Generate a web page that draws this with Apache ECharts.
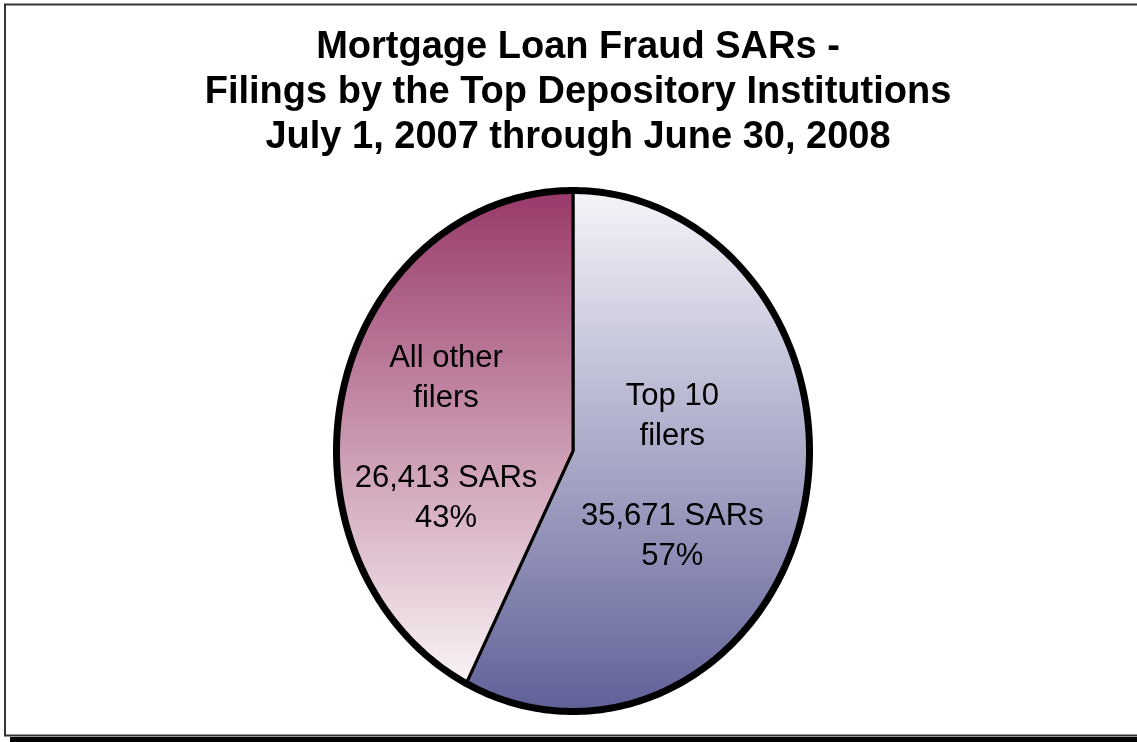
<!DOCTYPE html>
<html>
<head>
<meta charset="utf-8">
<script src="https://cdn.jsdelivr.net/npm/echarts@6/dist/echarts.min.js"></script>
<style>
html,body{margin:0;padding:0;background:#fff;}
#chart{width:1137px;height:742px;}
</style>
</head>
<body>
<div id="chart"></div>
<script>
// ---- data ----
const titleLines = ['Mortgage Loan Fraud SARs -', 'Filings by the Top Depository Institutions', 'July 1, 2007 through June 30, 2008'];
const categories = ['Top 10\nfilers', 'All other\nfilers'];
const sarCounts = [35671, 26413];
const percents = [57, 43];

// ---- layout / style ----
const labelPos = [[0.42, -0.098], [-0.537, 0.048]];
const gradients = [
  [{offset: 0, color: '#f5f5fa'}, {offset: 1, color: '#606098'}],
  [{offset: 0, color: '#983868'}, {offset: 1, color: '#faf4f6'}]
];

const total = sarCounts.reduce((a, b) => a + b, 0);
const starts = [];
let acc = 0;
sarCounts.forEach(v => { starts.push(acc / total * Math.PI * 2); acc += v; });

function fmt(n) { return n.toString().replace(/\B(?=(\d{3})+(?!\d))/g, ','); }

const chart = echarts.init(document.getElementById('chart'));

function renderSlice(params, api) {
  const i = params.dataIndex;
  const a0 = starts[i];
  const a1 = a0 + api.value(0) / total * Math.PI * 2;
  const pts = [api.coord([0, 0])];
  const n = 200;
  for (let k = 0; k <= n; k++) {
    const t = a0 + (a1 - a0) * k / n;
    pts.push(api.coord([Math.sin(t), Math.cos(t)]));
  }
  const lp = api.coord(labelPos[i]);
  return {
    type: 'group',
    children: [
      {
        type: 'polygon',
        shape: {points: pts},
        style: {
          fill: new echarts.graphic.LinearGradient(0, 0, 0, 1, gradients[i]),
          stroke: '#000', lineWidth: 3, lineJoin: 'miter'
        }
      },
      {
        type: 'text',
        x: lp[0], y: lp[1],
        style: {
          text: categories[i] + '\n\n' + fmt(api.value(0)) + ' SARs\n' + percents[i] + '%',
          fill: '#000',
          fontSize: 31,
          fontFamily: '"Liberation Sans", Arial, sans-serif',
          align: 'center',
          verticalAlign: 'middle',
          lineHeight: 40
        }
      }
    ]
  };
}

function renderOutline(params, api) {
  const pts = [];
  const n = 400;
  for (let k = 0; k <= n; k++) {
    const t = Math.PI * 2 * k / n;
    pts.push(api.coord([Math.sin(t), Math.cos(t)]));
  }
  return {
    type: 'polygon',
    shape: {points: pts},
    style: {fill: 'none', stroke: '#000', lineWidth: 7}
  };
}

chart.setOption({
  backgroundColor: '#fff',
  animation: false,
  title: {
    text: titleLines.join('\n'),
    left: 573,
    top: 20,
    textAlign: 'center',
    textStyle: {
      fontSize: 38,
      fontWeight: 'bold',
      fontFamily: '"Liberation Sans", Arial, sans-serif',
      color: '#000',
      lineHeight: 45
    }
  },
  graphic: [
    {type: 'rect', shape: {x: 10, y: 737, width: 1140, height: 8}, style: {fill: '#000'}, z: 0},
    {type: 'rect', shape: {x: 5, y: 4.5, width: 1150, height: 731}, style: {fill: 'none', stroke: '#333', lineWidth: 2}, z: 1}
  ],
  grid: {left: 336.5, top: 190.5, width: 473, height: 521},
  xAxis: {type: 'value', min: -1, max: 1, show: false},
  yAxis: {type: 'value', min: -1, max: 1, show: false},
  series: [
    {
      type: 'custom',
      coordinateSystem: 'cartesian2d',
      renderItem: renderSlice,
      data: sarCounts.map(v => [v]),
      encode: {x: -1, y: -1},
      z: 2
    },
    {
      type: 'custom',
      coordinateSystem: 'cartesian2d',
      renderItem: renderOutline,
      data: [[0]],
      encode: {x: -1, y: -1},
      z: 3
    }
  ]
});
</script>
</body>
</html>
